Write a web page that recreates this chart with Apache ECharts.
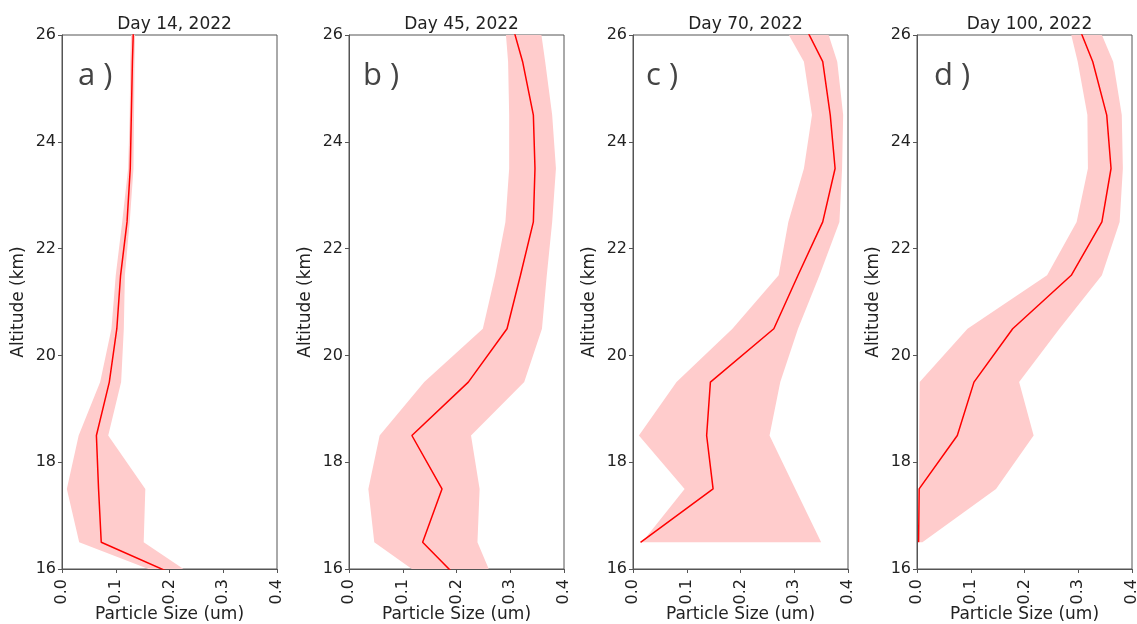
<!DOCTYPE html>
<html>
<head>
<meta charset="utf-8">
<script src="https://cdn.jsdelivr.net/npm/echarts@6/dist/echarts.min.js"></script>
<style>
html,body{margin:0;padding:0;background:#fff;}
#chart{width:1137px;height:624px;}
</style>
</head>
<body>
<div id="chart"></div>
<script>
// ---- data (altitude in km, particle size in um) ----
const altFull = [15.5, 16.5, 17.5, 18.5, 19.5, 20.5, 21.5, 22.5, 23.5, 24.5, 25.5, 26.5];
const altUpper = [16.5, 17.5, 18.5, 19.5, 20.5, 21.5, 22.5, 23.5, 24.5, 25.5, 26.5];

const day14Mean = [0.298, 0.073, 0.068, 0.064, 0.088, 0.102, 0.109, 0.121, 0.127, 0.129, 0.131, 0.134];
const day14Low  = [0.290, 0.032, 0.009, 0.031, 0.071, 0.092, 0.100, 0.112, 0.123, 0.126, 0.127, 0.130];
const day14High = [0.300, 0.152, 0.155, 0.086, 0.110, 0.115, 0.117, 0.126, 0.133, 0.134, 0.135, 0.137];

const day45Mean = [0.235, 0.137, 0.173, 0.117, 0.222, 0.294, 0.319, 0.343, 0.346, 0.343, 0.323, 0.295];
const day45Low  = [0.187, 0.047, 0.036, 0.057, 0.140, 0.249, 0.272, 0.291, 0.298, 0.298, 0.296, 0.288];
const day45High = [0.281, 0.239, 0.243, 0.227, 0.326, 0.359, 0.368, 0.378, 0.385, 0.378, 0.365, 0.351];

const day70Mean = [0.014, 0.149, 0.137, 0.144, 0.262, 0.307, 0.353, 0.376, 0.367, 0.353, 0.303];
const day70Low  = [0.017, 0.096, 0.011, 0.081, 0.185, 0.271, 0.289, 0.318, 0.333, 0.318, 0.262];
const day70High = [0.350, 0.302, 0.254, 0.274, 0.307, 0.347, 0.384, 0.389, 0.391, 0.380, 0.348];

const day100Mean = [0.003, 0.004, 0.075, 0.106, 0.178, 0.287, 0.344, 0.361, 0.353, 0.327, 0.287];
const day100Low  = [0.004, 0.004, 0.004, 0.005, 0.094, 0.242, 0.297, 0.318, 0.317, 0.299, 0.275];
const day100High = [0.010, 0.147, 0.217, 0.190, 0.265, 0.344, 0.377, 0.383, 0.381, 0.365, 0.323];

const panelTitles = ['Day 14, 2022', 'Day 45, 2022', 'Day 70, 2022', 'Day 100, 2022'];
const panelLetters = ['a )', 'b )', 'c )', 'd )'];
const xTicks = [0.0, 0.1, 0.2, 0.3, 0.4];
const yTicks = [16, 18, 20, 22, 24, 26];

const panels = [
  {alt: altFull,  mean: day14Mean,  low: day14Low,  high: day14High},
  {alt: altFull,  mean: day45Mean,  low: day45Low,  high: day45High},
  {alt: altUpper, mean: day70Mean,  low: day70Low,  high: day70High},
  {alt: altUpper, mean: day100Mean, low: day100Low, high: day100High}
];

// ---- layout ----
const gridLefts = [62, 349, 633, 917];
const gridW = 215, gridTop = 35, gridH = 534;
const letterOffsets = [11, 9, 8, 12];
const FONT = 'DejaVu Sans';
const axisColor = '#555';
const textColor = '#222';

const grids = [], xAxes = [], yAxes = [], series = [], titles = [];
panels.forEach((p, i) => {
  grids.push({left: gridLefts[i], top: gridTop, width: gridW, height: gridH,
    outerBoundsMode: 'none', containLabel: false,
    show: true, borderColor: axisColor, borderWidth: 1, backgroundColor: 'transparent'});
  xAxes.push({type: 'value', gridIndex: i, min: xTicks[0], max: xTicks[xTicks.length-1], interval: 0.1,
    name: 'Particle Size (um)', nameLocation: 'middle', nameGap: 37, nameMoveOverlap: false,
    nameTextStyle: {fontFamily: FONT, fontSize: 17, color: textColor},
    axisLine: {show: true, lineStyle: {color: axisColor, width: 1}},
    axisTick: {show: true, length: 4, lineStyle: {color: axisColor}},
    axisLabel: {rotate: 90, margin: 10, fontFamily: FONT, fontSize: 16, color: textColor,
      formatter: v => v.toFixed(1)},
    splitLine: {show: false}});
  yAxes.push({type: 'value', gridIndex: i, min: yTicks[0], max: yTicks[yTicks.length-1], interval: 2,
    name: 'Altitude (km)', nameLocation: 'middle', nameGap: 35, nameRotate: 90, nameMoveOverlap: false,
    nameTextStyle: {fontFamily: FONT, fontSize: 17, color: textColor},
    axisLine: {show: true, lineStyle: {color: axisColor, width: 1}},
    axisTick: {show: true, length: 4, lineStyle: {color: axisColor}},
    axisLabel: {margin: 6, fontFamily: FONT, fontSize: 16, color: textColor},
    splitLine: {show: false}});
  series.push({
    type: 'custom', xAxisIndex: i, yAxisIndex: i, clip: true, silent: true, z: 1,
    data: p.alt.map((a, k) => [p.low[k], a, p.high[k]]),
    encode: {x: [0, 2], y: 1},
    renderItem: function (params, api) {
      if (params.dataIndex !== 0) return null;
      const pts = [];
      for (let k = 0; k < p.alt.length; k++) pts.push(api.coord([p.low[k], p.alt[k]]));
      for (let k = p.alt.length - 1; k >= 0; k--) pts.push(api.coord([p.high[k], p.alt[k]]));
      return {type: 'polygon', shape: {points: pts}, style: {fill: '#ffcccc', stroke: null}};
    }
  });
  series.push({
    type: 'line', xAxisIndex: i, yAxisIndex: i, z: 3, clip: true, silent: true,
    symbol: 'none', animation: false,
    lineStyle: {color: '#ff0000', width: 1.5},
    data: p.alt.map((a, k) => [p.mean[k], a])
  });
  titles.push({text: panelTitles[i], left: gridLefts[i] + gridW / 2, top: 11, textAlign: 'center',
    textStyle: {fontFamily: FONT, fontSize: 17, fontWeight: 'normal', color: textColor}});
  titles.push({text: panelLetters[i], left: gridLefts[i] + letterOffsets[i], top: 56,
    textStyle: {fontFamily: 'Open Sans', fontSize: 31, fontWeight: 'normal', color: '#444'}});
});

const chart = echarts.init(document.getElementById('chart'), null, {renderer: 'canvas'});
chart.setOption({
  animation: false,
  backgroundColor: '#fff',
  title: titles,
  grid: grids,
  xAxis: xAxes,
  yAxis: yAxes,
  series: series
});
</script>
</body>
</html>
